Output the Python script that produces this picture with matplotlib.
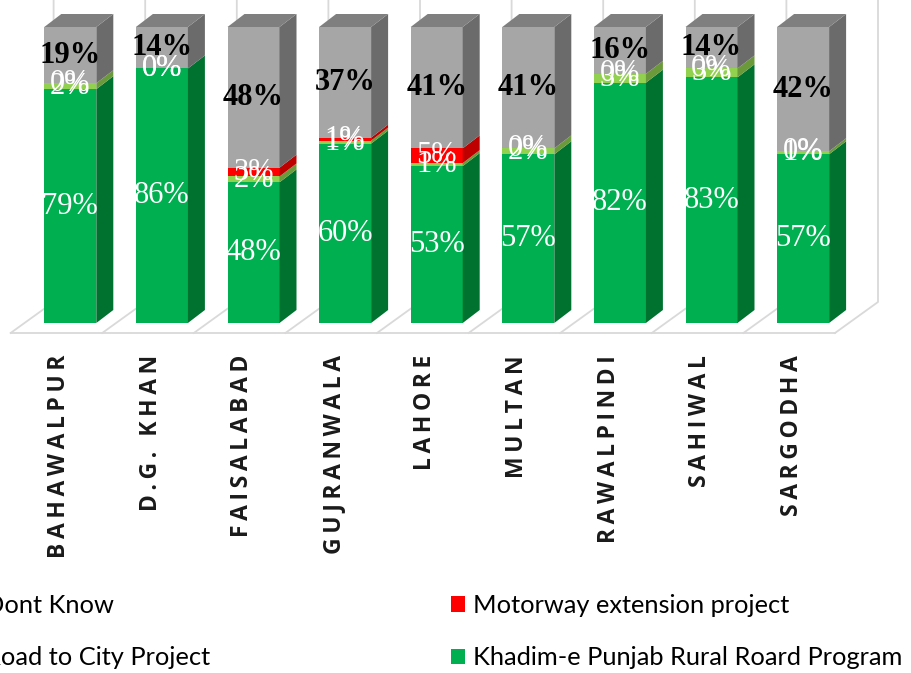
import matplotlib
matplotlib.use('Agg')
import matplotlib.pyplot as plt
from matplotlib.patches import Polygon, Rectangle, Patch

districts = ['BAHAWALPUR', 'D.G. KHAN', 'FAISALABAD', 'GUJRANWALA', 'LAHORE',
             'MULTAN', 'RAWALPINDI', 'SAHIWAL', 'SARGODHA']
khadim = [79, 86, 48, 60, 53, 57, 82, 83, 57]
road_city = [2, 0, 2, 1, 1, 2, 3, 3, 1]
motorway = [0, 0, 3, 1, 5, 0, 0, 0, 0]
dont_know = [19, 14, 48, 37, 41, 41, 16, 14, 42]

# name, values, front colour, side colour, label colour
series = [
    ('Khadim-e Punjab Rural Roard Program', khadim, '#00B050', '#00722F', 'white'),
    ('Road to City Project', road_city, '#92D050', '#6B9A3A', 'white'),
    ('Motorway extension project', motorway, '#FF0000', '#BF0000', 'white'),
    ('Dont Know', dont_know, '#A6A6A6', '#6B6B6B', 'black'),
]
top_colour = '#7F7F7F'
grid_colour = '#D9D9D9'

# pixel scale of the category / percent axes
PX_X = 91.6
PX_Y = 2.96
bar_w = 52 / PX_X
dep_x, dep_y = 17 / PX_X, 13 / PX_Y          # bar depth
fl_x, fl_y = -13.9 / PX_X, -10 / PX_Y        # floor front offset
fl_dx, fl_dy = 43 / PX_X, 31 / PX_Y          # floor depth

fig = plt.figure(figsize=(9.11, 6.73), dpi=100)
ax = fig.add_axes([0, 0, 1, 1])
ax.set_xlim(-70.3 / PX_X, (911 - 70.3) / PX_X)
ax.set_ylim(-(673 - 323) / PX_Y, 323 / PX_Y)
ax.axis('off')
ytop = 323 / PX_Y

# floor and back wall gridlines
n = len(districts)
fx0 = -0.5 + fl_x
ax.plot([fx0, fx0 + n], [fl_y, fl_y], color=grid_colour, lw=1.3, zorder=1)
for k in range(n + 1):
    x = k - 0.5 + fl_x
    ax.plot([x, x + fl_dx, x + fl_dx], [fl_y, fl_y + fl_dy, ytop],
            color=grid_colour, lw=1.3, zorder=1)

totals = [sum(s[1][i] for s in series) for i in range(n)]

for i in range(n):
    base = 0.0
    left, right = i - bar_w / 2, i + bar_w / 2
    for name, vals, fc, sc, tc in series:
        h = vals[i] * 100.0 / totals[i]
        y0, y1 = base, base + h
        if h > 0:
            ax.add_patch(Rectangle((left, y0), bar_w, h, facecolor=fc,
                                   edgecolor='none', zorder=3))
            ax.add_patch(Polygon([(right, y0), (right + dep_x, y0 + dep_y),
                                  (right + dep_x, y1 + dep_y), (right, y1)],
                                 closed=True, facecolor=sc, edgecolor='none', zorder=3))
        weight = 'bold' if tc == 'black' else 'normal'
        ax.text(i, (y0 + y1) / 2, f'{vals[i]}%', color=tc, fontsize=22,
                family='Liberation Serif', weight=weight,
                ha='center', va='center', zorder=6)
        base = y1
    ax.add_patch(Polygon([(left, 100), (left + dep_x, 100 + dep_y),
                          (right + dep_x, 100 + dep_y), (right, 100)],
                         closed=True, facecolor=top_colour, edgecolor='none', zorder=3))

# category labels, letter spaced
for i, name in enumerate(districts):
    spaced = '\u2009'.join(name)
    ax.text(i - 0.123, -32 / PX_Y, spaced, rotation=90, ha='center', va='top',
            fontsize=16.5, weight='bold', family=['Open Sans', 'DejaVu Sans'],
            color='#1a1a1a')

# legend in two columns, left column partly off the canvas
legend_font = {'family': 'Lato', 'size': 18.3}
h_left = [Patch(facecolor=series[3][2]), Patch(facecolor=series[1][2])]
l_left = [series[3][0], series[1][0]]
h_right = [Patch(facecolor=series[2][2]), Patch(facecolor=series[0][2])]
l_right = [series[2][0], series[0][0]]
for hs, ls, xpx in [(h_left, l_left, -37), (h_right, l_right, 451)]:
    fig.legend(hs, ls, loc='upper left', bbox_to_anchor=(xpx / 911, 1 - 594 / 673),
               frameon=False, prop=legend_font, handlelength=0.55, handleheight=0.55,
               handletextpad=0.3, labelspacing=1.15, borderpad=0, borderaxespad=0)

fig.savefig('out.png', dpi=100)
